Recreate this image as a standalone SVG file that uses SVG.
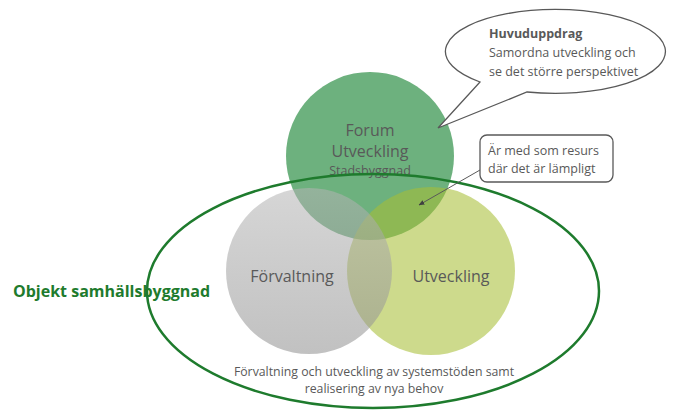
<svg xmlns="http://www.w3.org/2000/svg" width="675" height="411" viewBox="0 0 675 411">
<defs>
<style>
.lbl{font-family:"Open Sans","Liberation Sans",sans-serif;fill:#595959;text-anchor:middle}
.big{font-size:16px}
.sm{font-size:12.5px}
.note{font-family:"Open Sans","Liberation Sans",sans-serif;font-size:12.5px;fill:#595959}
.outline{fill:#fff;stroke:#595959;stroke-width:1.3}
</style>
<linearGradient id="gGray" x1="0" y1="0" x2="0" y2="1">
<stop offset="0" stop-color="#b4b4b4"/><stop offset="1" stop-color="#8e8e8e"/>
</linearGradient>
<marker id="arr" viewBox="0 0 10 10" refX="9" refY="5" markerWidth="6" markerHeight="6" orient="auto">
<path d="M0,1 L10,5 L0,9 z" fill="#404040"/>
</marker>
</defs>
<rect width="675" height="411" fill="#fff"/>
<g id="forum">
<circle cx="370" cy="156" r="84" fill="#6db17e"/>
<text class="lbl big" x="370" y="136">Forum</text>
<text class="lbl big" x="370" y="157">Utveckling</text>
<text class="lbl sm" x="370" y="175">Stadsbyggnad</text>
</g>
<g id="utveckling">
<circle cx="431" cy="271" r="84" fill="#a7be35" fill-opacity="0.57"/>
<text class="lbl big" x="451" y="282">Utveckling</text>
</g>
<g id="forvaltning">
<circle cx="309" cy="271" r="83" fill="url(#gGray)" fill-opacity="0.55"/>
<text class="lbl big" x="292" y="282">Förvaltning</text>
</g>
<g id="objekt">
<ellipse cx="373" cy="291" rx="226" ry="117" fill="none" stroke="#1e7b2d" stroke-width="2.5"/>
<text x="13" y="297" font-family="'Open Sans','Liberation Sans',sans-serif" font-size="16" font-weight="bold" fill="#1e7b2d">Objekt samhällsbyggnad</text>
<text class="lbl" x="374" y="376" font-size="12.3">Förvaltning och utveckling av systemstöden samt</text>
<text class="lbl" x="374" y="393" font-size="12.3">realisering av nya behov</text>
</g>
<g id="huvuduppdrag">
<path class="outline" d="M480,82 A110,42 0 1 1 527,92 L438,128 Z"/>
<text class="note" x="489" y="38" font-weight="bold">Huvuduppdrag</text>
<text class="note" x="489" y="57">Samordna utveckling och</text>
<text class="note" x="489" y="76">se det större perspektivet</text>
</g>
<g id="resurs">
<rect class="outline" x="480" y="135" width="133" height="47" rx="7"/>
<text class="note" x="488" y="155">Är med som resurs</text>
<text class="note" x="488" y="173">där det är lämpligt</text>
</g>
<g id="connectors">
<line x1="480" y1="170" x2="419" y2="205" stroke="#595959" stroke-width="1" marker-end="url(#arr)"/>
</g>
</svg>
